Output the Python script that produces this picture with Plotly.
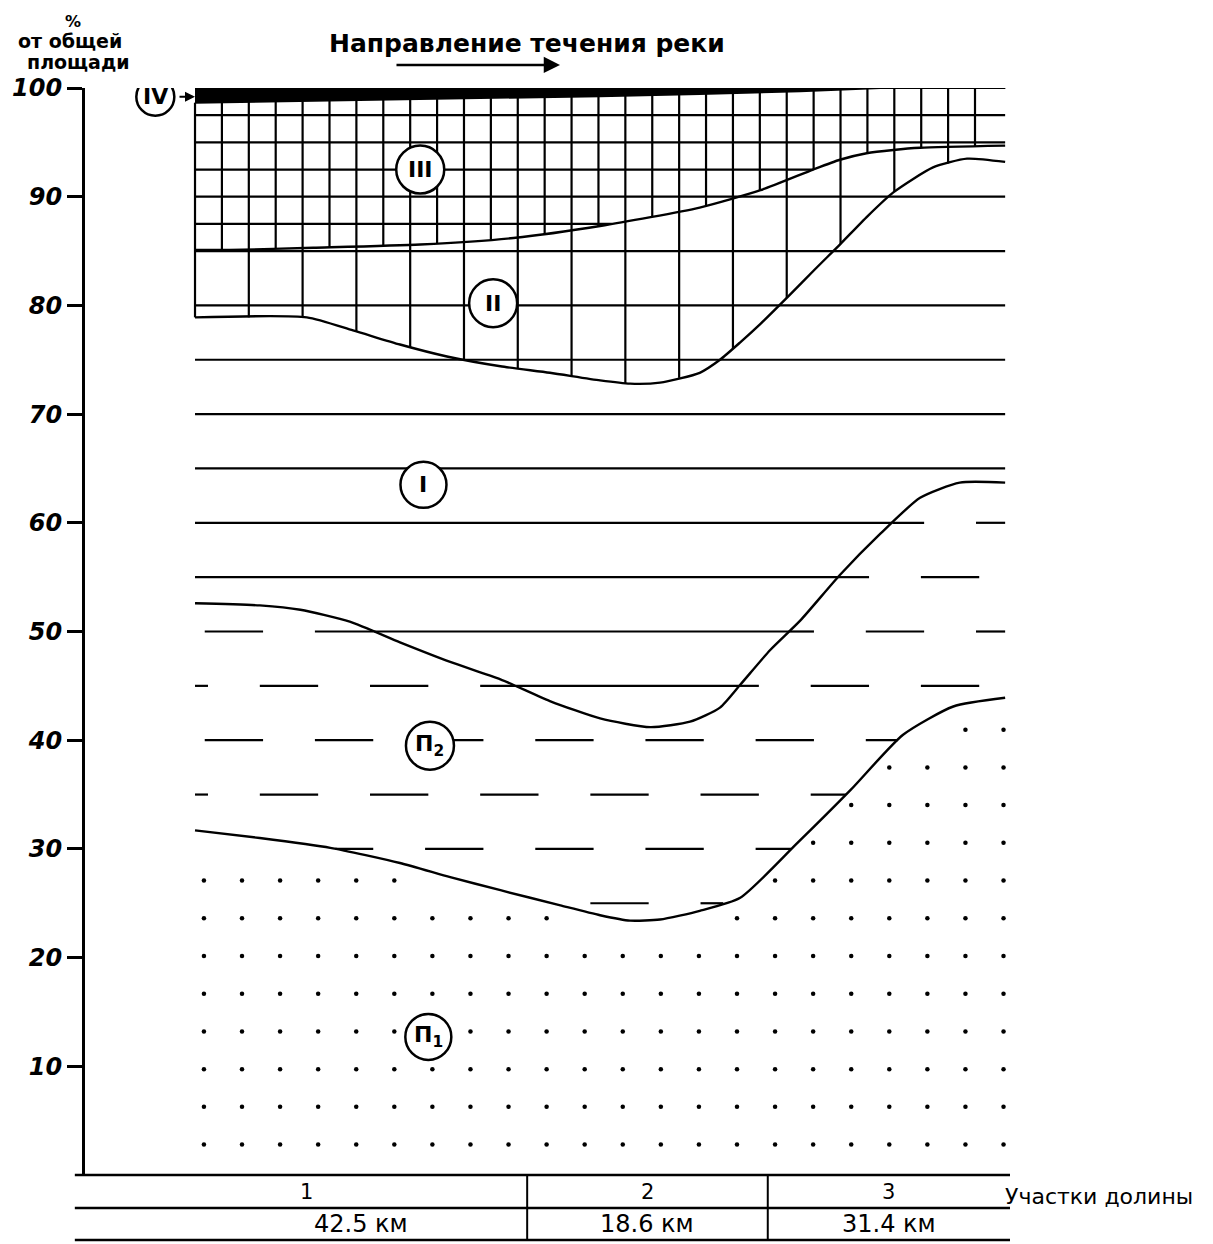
import numpy as np
import plotly.graph_objects as go

# ---------------- data (x = relative position along the valley, 0..100) ----------------
# IV / III boundary (lower edge of the black band)
iv_x = [0, 13.0, 31.5, 50.0, 62.3, 74.7, 84.6, 100]
iv_y = [98.65, 98.8, 99.0, 99.25, 99.45, 99.7, 100, 100]

# III / II boundary
iii_x = [0, 4.3, 14.6, 27.8, 39.3, 50.0, 62.3, 69.8, 76.3, 79.6, 82.9, 86.2, 89.5, 100]
iii_y = [85.1, 85.1, 85.3, 85.6, 86.2, 87.3, 89.0, 90.6, 92.5, 93.4, 94.0, 94.3, 94.5, 94.7]

# II / I boundary
ii_x = [0, 13.8, 19.5, 25.3, 31.1, 37.7, 43.8, 50.0, 53.7, 57.4, 62.3, 64.8, 67.3,
        69.8, 73.2, 76.5, 79.6, 83.0, 86.2, 91.1, 95.3, 100]
ii_y = [78.9, 78.9, 77.7, 76.4, 75.3, 74.4, 73.8, 73.1, 72.8, 72.9, 73.8, 75.0, 76.6,
        78.3, 80.8, 83.3, 85.6, 88.2, 90.4, 92.7, 93.5, 93.2]

# I / П2 boundary
i_x = [0, 8.0, 13.0, 19.1, 25.3, 31.5, 37.7, 43.8, 50.0, 56.2, 61.1, 64.8, 67.3,
       71.0, 74.7, 79.6, 84.6, 89.5, 94.4, 100]
i_y = [52.6, 52.4, 52.0, 50.9, 49.0, 47.2, 45.6, 43.6, 42.0, 41.2, 41.7, 43.0, 45.1,
       48.3, 51.0, 55.2, 59.0, 62.3, 63.7, 63.7]

# П2 / П1 boundary
p_x = [0, 8.0, 16.7, 25.3, 31.5, 37.7, 45.1, 50.0, 53.7, 57.4, 62.3, 67.3, 74.3,
       80.9, 87.4, 93.6, 100]
p_y = [31.7, 31.0, 30.1, 28.7, 27.4, 26.2, 24.8, 23.9, 23.4, 23.5, 24.3, 25.5, 30.5,
       35.4, 40.5, 43.1, 43.9]

# zone labels
zone_text = ["IV", "III", "II", "I", "П<sub>2</sub>", "П<sub>1</sub>"]
zone_x = [-4.9, 27.8, 36.8, 28.2, 29.0, 28.8]
zone_y = [99.2, 92.5, 80.2, 63.5, 39.5, 12.7]

# y ticks and axis title lines
y_ticks = [10, 20, 30, 40, 50, 60, 70, 80, 90, 100]
y_title_lines = ["%", "от общей", "площади"]

# table below the chart
sections = ["1", "2", "3"]
section_lengths = ["42.5 км", "18.6 км", "31.4 км"]
section_edges = [-13.58, 41.0, 70.7, 100.6]

# ---------------- hatching helpers ----------------
xs = np.linspace(0, 100, 4001)
IV = np.interp(xs, iv_x, iv_y)
III = np.interp(xs, iii_x, iii_y)
II = np.interp(xs, ii_x, ii_y)
I1 = np.interp(xs, i_x, i_y)
P = np.interp(xs, p_x, p_y)


def runs(mask):
    m = np.concatenate([[0], mask.astype(int), [0]])
    idx = np.flatnonzero(np.diff(m))
    return [(xs[a], xs[b - 1]) for a, b in zip(idx[::2], idx[1::2]) if b - 1 > a]


hx, hy = [], []


def add_seg(x0, x1, y0, y1):
    hx.extend([x0, x1, None])
    hy.extend([y0, y1, None])


# solid 5% lines in zones I, II, III
for L in range(45, 100, 5):
    for a, b in runs((I1 <= L) & (IV >= L)):
        add_seg(a, b, L, L)
# extra fine lines of zone III grid
for L in [87.5, 92.5, 97.5]:
    for a, b in runs((III <= L) & (IV >= L)):
        add_seg(a, b, L, L)
# top border line
add_seg(0, 100, 100, 100)

# verticals of zone III (fine grid) and zone II (coarse grid)
step = 3.32
for k in range(30):
    xv = k * step
    top = np.interp(xv, iv_x, iv_y)
    mid = np.interp(xv, iii_x, iii_y)
    low = np.interp(xv, ii_x, ii_y)
    if top > mid:
        add_seg(xv, xv, top, mid)
    if k % 2 == 0 and mid > low:
        add_seg(xv, xv, mid, low)

# dashed lines of zone П2
dx, dy = [], []
period, dlen = 13.6, 7.2
for L in range(25, 65, 5):
    off = 1.2 if L % 10 == 0 else 8.0
    for a, b in runs((P < L) & (I1 > L)):
        s = off - period
        while s < b:
            s0, s1 = max(s, a), min(s + dlen, b)
            if s1 - s0 > 1.0:
                dx.extend([s0, s1, None])
                dy.extend([L, L, None])
            s += period

# dots of zone П1
px_, py_ = [], []
for r in range(13):
    yv = 2.8 + 3.47 * r
    for c in range(22):
        xv = 1.1 + 4.7 * c
        if yv < np.interp(xv, p_x, p_y) - 1.2:
            px_.append(xv)
            py_.append(yv)

# ---------------- figure ----------------
fig = go.Figure()
LW = 2.2
fig.add_trace(go.Scatter(x=hx, y=hy, mode="lines", line=dict(color="black", width=LW),
                         hoverinfo="skip", cliponaxis=False, showlegend=False))
fig.add_trace(go.Scatter(x=dx, y=dy, mode="lines", line=dict(color="black", width=LW),
                         hoverinfo="skip", cliponaxis=False, showlegend=False))
fig.add_trace(go.Scatter(x=px_, y=py_, mode="markers",
                         marker=dict(color="black", size=4.5, symbol="circle"),
                         hoverinfo="skip", cliponaxis=False, showlegend=False))

# black band (zone IV)
fig.add_trace(go.Scatter(x=iv_x, y=[100] * len(iv_x), mode="lines",
                         line=dict(color="black", width=2), cliponaxis=False,
                         hoverinfo="skip", showlegend=False))
fig.add_trace(go.Scatter(x=iv_x, y=iv_y, mode="lines", fill="tonexty",
                         fillcolor="black", line=dict(color="black", width=2),
                         cliponaxis=False, hoverinfo="skip", showlegend=False))

# boundary curves
for bx, by in [(iii_x, iii_y), (ii_x, ii_y), (i_x, i_y), (p_x, p_y)]:
    fig.add_trace(go.Scatter(x=bx, y=by, mode="lines",
                             line=dict(color="black", width=2.4, shape="spline", smoothing=0.6),
                             cliponaxis=False, hoverinfo="skip", showlegend=False))

# zone label circles
radii = [19, 24, 24, 23, 24, 23]
for t, cx, cy, r in zip(zone_text, zone_x, zone_y, radii):
    fig.add_shape(type="circle", xref="x", yref="y", xsizemode="pixel", ysizemode="pixel",
                  xanchor=cx, yanchor=cy, x0=-r, x1=r, y0=-r, y1=r,
                  fillcolor="white", line=dict(color="black", width=2.5), layer="above")
    fig.add_annotation(x=cx, y=cy, text=t, showarrow=False,
                       font=dict(family="DejaVu Sans", size=22, color="black", weight="bold"),
                       xanchor="center", yanchor="middle")
# arrow from IV to the band
fig.add_annotation(x=0, y=zone_y[0], xref="x", yref="y", ax=-17, ay=0, text="",
                   showarrow=True, arrowhead=2, arrowsize=1, arrowwidth=2, arrowcolor="black")

# title and flow direction arrow
fig.add_annotation(x=0.478, y=1.0405, xref="paper", yref="paper", text="Направление течения реки",
                   showarrow=False, xanchor="center", yanchor="middle",
                   font=dict(family="DejaVu Sans", size=25, color="black", weight="bold"))
fig.add_annotation(x=0.5135, y=1.0212, xref="paper", yref="paper", ax=-165, ay=0, text="",
                   showarrow=True, arrowhead=2, arrowsize=1.3, arrowwidth=2.5, arrowcolor="black")

# y-axis title (three lines)
for txt, ypx, xpx, fs in zip(y_title_lines, [21, 41, 62], [73, 70, 78], [16, 19, 19]):
    fig.add_annotation(x=(xpx - 85) / 925, y=(1175 - ypx) / 1087, xref="paper", yref="paper",
                       text=txt, showarrow=False, xanchor="center", yanchor="middle",
                       font=dict(family="DejaVu Sans", size=fs, color="black", weight="bold"))

# table below
ycap = -0.0304
ybot = -0.0598
for yl in [0, ycap, ybot]:
    fig.add_shape(type="line", xref="paper", yref="paper", x0=-0.011, x1=1.0, y0=yl, y1=yl,
                  line=dict(color="black", width=2.5))
for e in section_edges[1:-1]:
    fig.add_shape(type="line", xref="x", yref="paper", x0=e, x1=e, y0=0, y1=ybot,
                  line=dict(color="black", width=2))
for i, (s, ln) in enumerate(zip(sections, section_lengths)):
    c = (section_edges[i] + section_edges[i + 1]) / 2
    ck = (max(section_edges[i], 0) + section_edges[i + 1]) / 2
    fig.add_annotation(x=c, y=-0.0155, xref="x", yref="paper", text=s, showarrow=False,
                       xanchor="center", yanchor="middle",
                       font=dict(family="DejaVu Sans", size=21, color="black"))
    fig.add_annotation(x=ck, y=-0.0455, xref="x", yref="paper", text=ln, showarrow=False,
                       xanchor="center", yanchor="middle",
                       font=dict(family="DejaVu Sans", size=24, color="black"))
fig.add_annotation(x=0.9924, y=-0.0195, xref="paper", yref="paper", text="Участки долины",
                   showarrow=False, xanchor="left", yanchor="middle",
                   font=dict(family="DejaVu Sans", size=22, color="black"))

# page body has an 8px margin, so the figure is 8px smaller than the window
fig.update_layout(
    width=1205, height=1236,
    margin=dict(l=77, r=203, t=80, b=69, autoexpand=False),
    paper_bgcolor="white", plot_bgcolor="white",
    xaxis=dict(range=[section_edges[0], section_edges[-1]], visible=False, automargin=False),
    yaxis=dict(range=[0, 100], tickvals=y_ticks, ticks="outside", ticklen=15, tickwidth=2.5,
               tickcolor="black", showline=True, linewidth=3, linecolor="black",
               showgrid=False, zeroline=False, automargin=False,
               tickfont=dict(family="DejaVu Sans", size=24, color="black", weight="bold", style="italic")),
)

fig.write_html("out.html")
